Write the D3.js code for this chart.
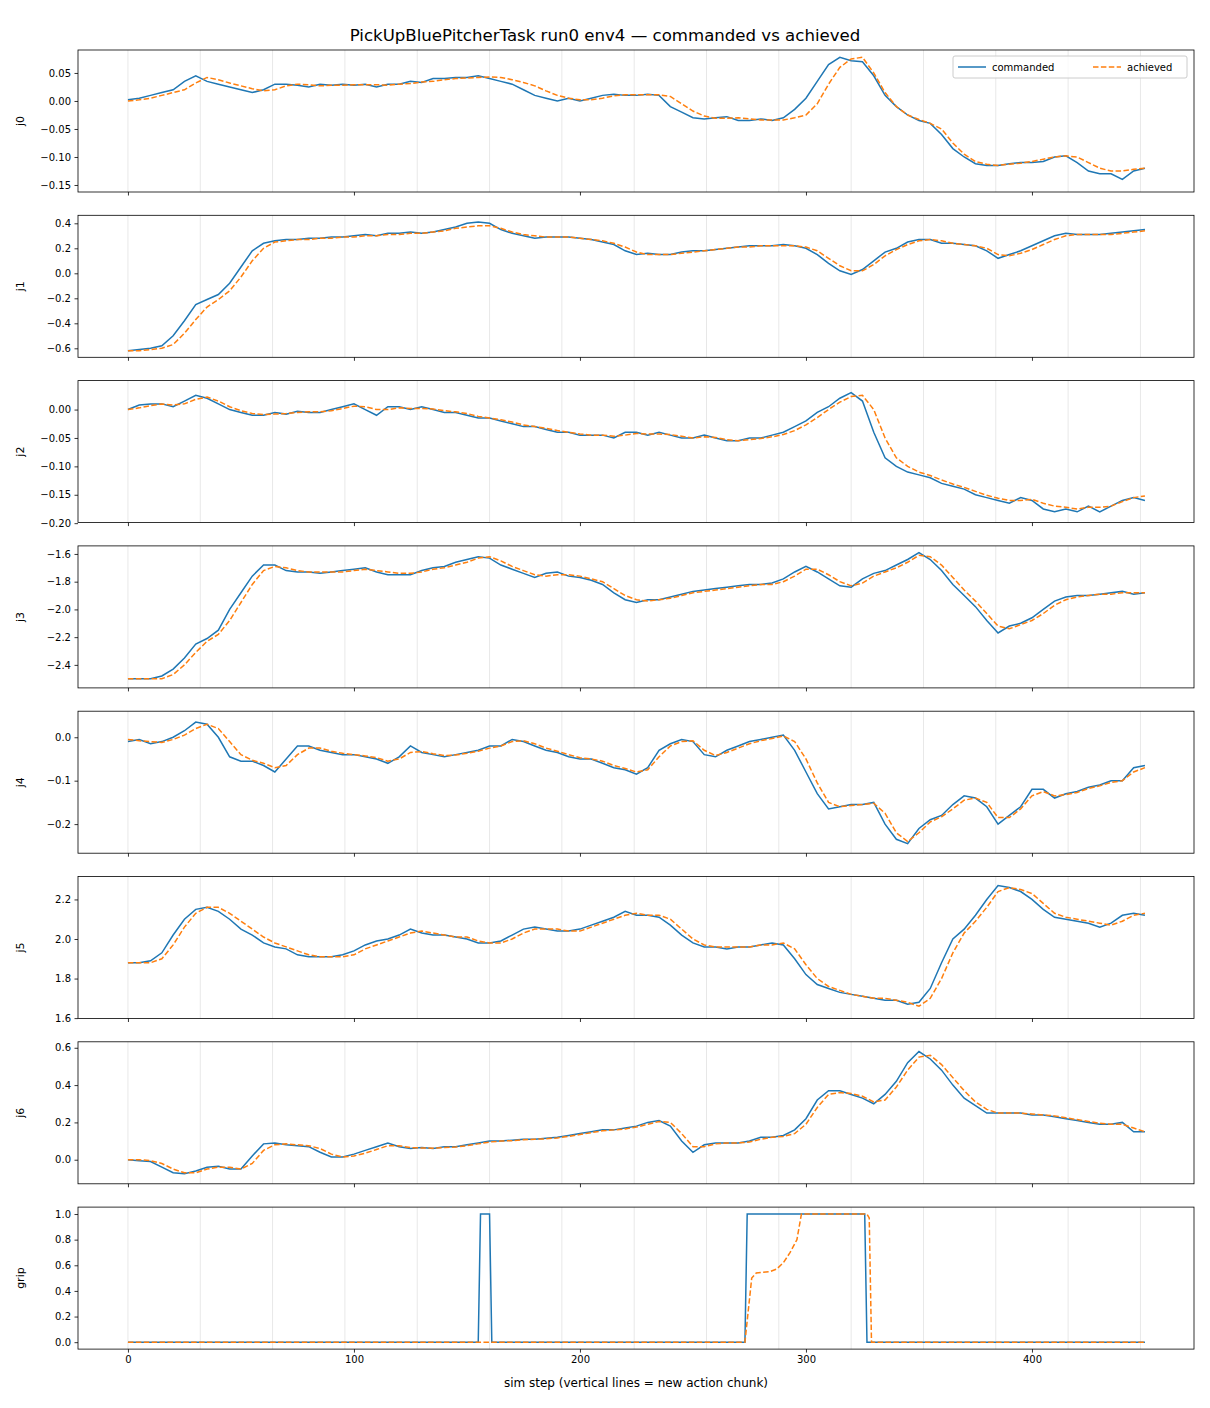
<!DOCTYPE html>
<html><head><meta charset="utf-8">
<script src="https://cdn.jsdelivr.net/npm/d3@7"></script>
<style>body{margin:0;background:#fff}</style></head>
<body><svg id="c" width="1210" height="1408"></svg>
<script>
const steps = d3.range(0, 451, 5);
const panelNames = ["j0","j1","j2","j3","j4","j5","j6"];
const j0Cmd=[0.002,0.005,0.01,0.015,0.02,0.035,0.045,0.035,0.03,0.025,
0.02,0.015,0.02,0.03,0.03,0.028,0.025,0.03,0.028,0.03,
0.028,0.03,0.025,0.03,0.03,0.035,0.033,0.04,0.04,0.042,
0.042,0.045,0.04,0.035,0.03,0.02,0.01,0.005,0.0,0.005,
0.0,0.005,0.01,0.012,0.01,0.01,0.012,0.01,-0.01,-0.02,
-0.03,-0.032,-0.03,-0.028,-0.035,-0.035,-0.032,-0.035,-0.03,-0.015,
0.005,0.035,0.065,0.078,0.072,0.07,0.045,0.01,-0.01,-0.025,
-0.035,-0.04,-0.06,-0.085,-0.1,-0.112,-0.115,-0.115,-0.112,-0.11,
-0.11,-0.108,-0.1,-0.098,-0.11,-0.125,-0.13,-0.13,-0.14,-0.125,-0.12];
const j0Ach=[0.0,0.002,0.005,0.01,0.015,0.02,0.032,0.042,0.038,0.032,
0.027,0.022,0.018,0.02,0.027,0.03,0.029,0.027,0.028,0.028,
0.029,0.029,0.029,0.028,0.03,0.031,0.034,0.035,0.038,0.04,
0.041,0.042,0.043,0.042,0.038,0.033,0.027,0.018,0.01,0.005,
0.002,0.002,0.005,0.009,0.011,0.011,0.011,0.011,0.008,-0.005,
-0.018,-0.027,-0.031,-0.031,-0.03,-0.032,-0.034,-0.034,-0.034,-0.03,
-0.025,-0.005,0.03,0.06,0.075,0.078,0.05,0.015,-0.01,-0.025,
-0.033,-0.04,-0.05,-0.075,-0.095,-0.108,-0.113,-0.115,-0.113,-0.111,
-0.108,-0.104,-0.1,-0.098,-0.1,-0.11,-0.12,-0.125,-0.125,-0.122,-0.12];
const j1Cmd=[-0.62,-0.61,-0.6,-0.58,-0.5,-0.38,-0.25,-0.21,-0.17,-0.08,
0.05,0.18,0.24,0.26,0.27,0.27,0.28,0.28,0.29,0.29,
0.3,0.31,0.3,0.32,0.32,0.33,0.32,0.33,0.35,0.37,
0.4,0.41,0.4,0.35,0.32,0.3,0.28,0.29,0.29,0.29,
0.28,0.27,0.25,0.23,0.18,0.15,0.16,0.15,0.15,0.17,
0.18,0.18,0.19,0.2,0.21,0.22,0.22,0.22,0.23,0.22,
0.2,0.15,0.08,0.02,-0.01,0.03,0.1,0.17,0.2,0.25,
0.27,0.27,0.24,0.24,0.23,0.22,0.18,0.12,0.15,0.18,
0.22,0.26,0.3,0.32,0.31,0.31,0.31,0.32,0.33,0.34,0.35];
const j1Ach=[-0.62,-0.62,-0.61,-0.6,-0.57,-0.48,-0.37,-0.27,-0.21,-0.14,
-0.03,0.1,0.2,0.25,0.26,0.27,0.27,0.28,0.28,0.29,
0.29,0.3,0.3,0.31,0.31,0.32,0.32,0.33,0.34,0.36,
0.37,0.38,0.38,0.36,0.33,0.31,0.3,0.29,0.29,0.29,
0.28,0.27,0.26,0.24,0.21,0.17,0.15,0.15,0.15,0.16,
0.17,0.18,0.19,0.2,0.21,0.21,0.22,0.22,0.22,0.22,
0.21,0.18,0.12,0.06,0.02,0.02,0.07,0.14,0.19,0.23,
0.26,0.27,0.26,0.24,0.23,0.22,0.2,0.15,0.14,0.16,
0.19,0.23,0.27,0.3,0.31,0.31,0.31,0.31,0.32,0.33,0.34];
const j2Cmd=[0.0,0.008,0.01,0.01,0.005,0.015,0.025,0.02,0.01,0.0,
-0.005,-0.01,-0.01,-0.005,-0.008,-0.003,-0.005,-0.005,0.0,0.005,
0.01,0.0,-0.01,0.005,0.005,0.0,0.005,0.0,-0.005,-0.005,
-0.01,-0.015,-0.015,-0.02,-0.025,-0.03,-0.03,-0.035,-0.04,-0.04,
-0.045,-0.045,-0.045,-0.05,-0.04,-0.04,-0.045,-0.04,-0.045,-0.05,
-0.05,-0.045,-0.05,-0.055,-0.055,-0.05,-0.05,-0.045,-0.04,-0.03,
-0.02,-0.005,0.005,0.02,0.03,0.015,-0.04,-0.085,-0.1,-0.11,
-0.115,-0.12,-0.13,-0.135,-0.14,-0.15,-0.155,-0.16,-0.165,-0.155,
-0.16,-0.175,-0.18,-0.175,-0.18,-0.17,-0.18,-0.17,-0.16,-0.155,-0.16];
const j2Ach=[0.0,0.003,0.007,0.01,0.008,0.01,0.018,0.022,0.015,0.005,
-0.002,-0.007,-0.009,-0.008,-0.007,-0.005,-0.004,-0.004,-0.002,0.002,
0.006,0.005,0.0,0.0,0.003,0.002,0.002,0.001,-0.002,-0.004,
-0.007,-0.012,-0.015,-0.018,-0.022,-0.027,-0.03,-0.033,-0.037,-0.04,
-0.043,-0.045,-0.045,-0.047,-0.045,-0.042,-0.043,-0.043,-0.044,-0.047,
-0.05,-0.048,-0.049,-0.053,-0.055,-0.053,-0.051,-0.048,-0.044,-0.037,
-0.027,-0.014,0.0,0.013,0.023,0.025,0.0,-0.05,-0.085,-0.1,
-0.11,-0.116,-0.124,-0.131,-0.137,-0.144,-0.151,-0.156,-0.16,-0.16,
-0.158,-0.165,-0.17,-0.172,-0.175,-0.172,-0.172,-0.17,-0.162,-0.155,-0.152];
const j3Cmd=[-2.5,-2.5,-2.5,-2.48,-2.43,-2.35,-2.25,-2.21,-2.15,-2.0,
-1.88,-1.76,-1.68,-1.68,-1.72,-1.73,-1.73,-1.74,-1.73,-1.72,
-1.71,-1.7,-1.73,-1.75,-1.75,-1.75,-1.72,-1.7,-1.69,-1.66,
-1.64,-1.62,-1.63,-1.68,-1.71,-1.74,-1.77,-1.74,-1.73,-1.76,
-1.77,-1.79,-1.82,-1.88,-1.93,-1.95,-1.93,-1.93,-1.91,-1.89,
-1.87,-1.86,-1.85,-1.84,-1.83,-1.82,-1.82,-1.81,-1.78,-1.73,
-1.69,-1.73,-1.78,-1.83,-1.84,-1.78,-1.74,-1.72,-1.68,-1.64,
-1.59,-1.64,-1.72,-1.82,-1.9,-1.98,-2.08,-2.17,-2.12,-2.1,
-2.06,-2.0,-1.94,-1.91,-1.9,-1.9,-1.89,-1.88,-1.87,-1.89,-1.88];
const j3Ach=[-2.5,-2.5,-2.5,-2.5,-2.47,-2.4,-2.31,-2.23,-2.18,-2.08,
-1.95,-1.82,-1.72,-1.69,-1.7,-1.72,-1.73,-1.73,-1.73,-1.73,
-1.72,-1.71,-1.72,-1.73,-1.74,-1.74,-1.73,-1.71,-1.7,-1.68,
-1.66,-1.63,-1.62,-1.65,-1.69,-1.72,-1.75,-1.76,-1.75,-1.75,
-1.76,-1.78,-1.8,-1.85,-1.9,-1.93,-1.94,-1.93,-1.92,-1.9,
-1.88,-1.87,-1.86,-1.85,-1.84,-1.83,-1.82,-1.82,-1.8,-1.76,
-1.71,-1.71,-1.75,-1.8,-1.83,-1.81,-1.76,-1.73,-1.7,-1.66,
-1.61,-1.62,-1.68,-1.77,-1.86,-1.94,-2.03,-2.12,-2.14,-2.11,
-2.08,-2.03,-1.97,-1.93,-1.91,-1.9,-1.89,-1.89,-1.88,-1.88,-1.88];
const j4Cmd=[-0.01,-0.005,-0.015,-0.01,0.0,0.015,0.035,0.03,0.0,-0.045,
-0.055,-0.055,-0.065,-0.08,-0.05,-0.02,-0.02,-0.03,-0.035,-0.04,
-0.04,-0.045,-0.05,-0.06,-0.045,-0.02,-0.035,-0.04,-0.045,-0.04,
-0.035,-0.03,-0.02,-0.02,-0.005,-0.01,-0.02,-0.03,-0.035,-0.045,
-0.05,-0.05,-0.06,-0.07,-0.075,-0.085,-0.07,-0.03,-0.015,-0.005,
-0.01,-0.04,-0.045,-0.03,-0.02,-0.01,-0.005,0.0,0.005,-0.03,
-0.08,-0.13,-0.165,-0.16,-0.155,-0.155,-0.15,-0.2,-0.235,-0.245,
-0.21,-0.19,-0.18,-0.155,-0.135,-0.14,-0.16,-0.2,-0.18,-0.16,
-0.12,-0.12,-0.14,-0.13,-0.125,-0.115,-0.11,-0.1,-0.1,-0.07,-0.065];
const j4Ach=[-0.005,-0.008,-0.01,-0.012,-0.005,0.005,0.02,0.03,0.02,-0.01,
-0.04,-0.053,-0.06,-0.07,-0.065,-0.04,-0.025,-0.025,-0.032,-0.037,
-0.04,-0.043,-0.047,-0.055,-0.05,-0.035,-0.033,-0.038,-0.042,-0.041,
-0.037,-0.032,-0.025,-0.02,-0.01,-0.008,-0.015,-0.025,-0.032,-0.04,
-0.047,-0.05,-0.055,-0.065,-0.072,-0.08,-0.075,-0.045,-0.02,-0.01,
-0.008,-0.03,-0.042,-0.035,-0.025,-0.015,-0.008,-0.003,0.003,-0.01,
-0.05,-0.105,-0.15,-0.16,-0.157,-0.155,-0.152,-0.175,-0.22,-0.24,
-0.22,-0.195,-0.183,-0.165,-0.145,-0.14,-0.15,-0.185,-0.185,-0.165,
-0.135,-0.125,-0.135,-0.132,-0.127,-0.118,-0.112,-0.104,-0.1,-0.08,-0.07];
const j5Cmd=[1.88,1.88,1.89,1.93,2.02,2.1,2.15,2.16,2.14,2.1,
2.05,2.02,1.98,1.96,1.95,1.92,1.91,1.91,1.91,1.92,
1.94,1.97,1.99,2.0,2.02,2.05,2.03,2.02,2.02,2.01,
2.0,1.98,1.98,1.99,2.02,2.05,2.06,2.05,2.04,2.04,
2.05,2.07,2.09,2.11,2.14,2.12,2.12,2.11,2.07,2.02,
1.98,1.96,1.96,1.95,1.96,1.96,1.97,1.98,1.97,1.9,
1.82,1.77,1.75,1.73,1.72,1.71,1.7,1.69,1.69,1.67,
1.68,1.75,1.88,2.0,2.05,2.12,2.2,2.27,2.26,2.24,
2.2,2.15,2.11,2.1,2.09,2.08,2.06,2.08,2.12,2.13,2.12];
const j5Ach=[1.88,1.88,1.88,1.9,1.97,2.06,2.13,2.16,2.16,2.13,
2.09,2.05,2.01,1.98,1.96,1.94,1.92,1.91,1.91,1.91,
1.92,1.95,1.97,1.99,2.01,2.03,2.04,2.03,2.02,2.01,
2.01,1.99,1.98,1.98,2.0,2.03,2.05,2.05,2.05,2.04,
2.04,2.06,2.08,2.1,2.12,2.13,2.12,2.12,2.1,2.05,
2.0,1.97,1.96,1.96,1.96,1.96,1.97,1.97,1.98,1.95,
1.87,1.8,1.76,1.74,1.72,1.71,1.7,1.7,1.69,1.68,
1.66,1.7,1.8,1.93,2.03,2.09,2.16,2.24,2.26,2.25,
2.23,2.18,2.13,2.11,2.1,2.09,2.08,2.07,2.09,2.12,2.13];
const j6Cmd=[0.0,-0.005,-0.01,-0.04,-0.07,-0.075,-0.06,-0.04,-0.035,-0.05,
-0.05,0.02,0.085,0.09,0.08,0.075,0.07,0.04,0.015,0.015,
0.03,0.05,0.07,0.09,0.07,0.06,0.065,0.06,0.07,0.07,
0.08,0.09,0.1,0.1,0.105,0.11,0.11,0.115,0.12,0.13,
0.14,0.15,0.16,0.16,0.17,0.18,0.2,0.21,0.18,0.1,
0.04,0.08,0.09,0.09,0.09,0.1,0.12,0.12,0.13,0.16,
0.22,0.32,0.37,0.37,0.35,0.33,0.3,0.35,0.42,0.52,
0.58,0.54,0.48,0.4,0.33,0.29,0.25,0.25,0.25,0.25,
0.24,0.24,0.23,0.22,0.21,0.2,0.19,0.19,0.2,0.15,0.15];
const j6Ach=[0.0,0.0,-0.005,-0.02,-0.05,-0.07,-0.07,-0.05,-0.04,-0.04,
-0.05,-0.02,0.05,0.08,0.085,0.08,0.075,0.06,0.03,0.015,
0.02,0.035,0.055,0.075,0.075,0.065,0.063,0.062,0.065,0.068,
0.075,0.085,0.095,0.1,0.102,0.107,0.11,0.112,0.117,0.125,
0.135,0.145,0.155,0.16,0.165,0.175,0.19,0.205,0.2,0.14,
0.07,0.07,0.085,0.09,0.09,0.095,0.11,0.12,0.125,0.14,
0.19,0.28,0.35,0.36,0.355,0.34,0.31,0.32,0.39,0.48,
0.55,0.56,0.51,0.44,0.37,0.31,0.27,0.25,0.25,0.25,
0.245,0.24,0.235,0.225,0.215,0.205,0.195,0.19,0.19,0.17,0.15];
const gripCmdSteps=[0,155,156,160,161,273,274,326,327,450];
const gripCmdVals=[0,0,1,1,0,0,1,1,0,0];
const gripAchSteps=[0,273,276,278,284,287,290,293,296,298,327,328,329,450];
const gripAchVals=[0,0,0.5,0.54,0.55,0.57,0.62,0.7,0.8,1.0,1.0,0.97,0,0];
const xTicks=[0,100,200,300,400];
const chunkLines=d3.range(0,451,32);
const yTicksList=[[-0.15,-0.10,-0.05,0.00,0.05],[-0.6,-0.4,-0.2,0.0,0.2,0.4],[-0.20,-0.15,-0.10,-0.05,0.00],
[-2.4,-2.2,-2.0,-1.8,-1.6],[-0.2,-0.1,0.0],[1.6,1.8,2.0,2.2],[0.0,0.2,0.4,0.6],[0,0.2,0.4,0.6,0.8,1.0]];
const yDomains=[[-0.1625,0.091],[-0.672,0.464],[-0.199,0.051],[-2.566,-1.542],[-0.267,0.06],[1.598,2.316],[-0.129,0.632],[-0.054,1.054]];
const yFmt=[".2f",".1f",".2f",".1f",".1f",".1f",".1f",".1f"];

const svg=d3.select("#c");
const L=78,W=1116,H=142,T0=50,STEP=165.3;
const x=d3.scaleLinear().domain([-22.1,471.7]).range([L,L+W]);
const blue="#1f77b4",orange="#ff7f0e";
const cmdArr=[j0Cmd,j1Cmd,j2Cmd,j3Cmd,j4Cmd,j5Cmd,j6Cmd];
const achArr=[j0Ach,j1Ach,j2Ach,j3Ach,j4Ach,j5Ach,j6Ach];
const minus=s=>s.replace("-","\u2212");
for(let p=0;p<8;p++){
  const top=T0+p*STEP;
  const y=d3.scaleLinear().domain(yDomains[p]).range([top+H,top]);
  const g=svg.append("g");
  g.selectAll("line.ch").data(chunkLines).join("line").attr("x1",d=>x(d)).attr("x2",d=>x(d))
   .attr("y1",top).attr("y2",top+H).attr("stroke","#000").attr("stroke-opacity",0.12).attr("stroke-width",0.8);
  let cmd,ach;
  if(p<7){cmd=steps.map((s,i)=>[s,cmdArr[p][i]]);ach=steps.map((s,i)=>[s,achArr[p][i]]);}
  else{cmd=gripCmdSteps.map((s,i)=>[s,gripCmdVals[i]]);ach=gripAchSteps.map((s,i)=>[s,gripAchVals[i]]);}
  const line=d3.line().x(d=>x(d[0])).y(d=>y(d[1]));
  g.append("path").attr("d",line(cmd)).attr("fill","none").attr("stroke",blue).attr("stroke-width",1.5);
  g.append("path").attr("d",line(ach)).attr("fill","none").attr("stroke",orange).attr("stroke-width",1.5).attr("stroke-dasharray","5.5,2.4");
  g.append("rect").attr("x",L).attr("y",top).attr("width",W).attr("height",H).attr("fill","none").attr("stroke","#000").attr("stroke-width",0.8);
  const ya=d3.axisLeft(y).tickValues(yTicksList[p]).tickSize(3.5).tickPadding(3.5).tickFormat(d=>minus(d3.format(yFmt[p])(d)));
  const yg=g.append("g").attr("transform",`translate(${L},0)`).call(ya);
  const xa=d3.axisBottom(x).tickValues(xTicks).tickSize(3.5).tickPadding(3.5).tickFormat(p===7?d3.format("d"):"");
  const xg=g.append("g").attr("transform",`translate(0,${top+H})`).call(xa);
  [yg,xg].forEach(a=>{a.select(".domain").remove();a.selectAll("text").attr("font-family","DejaVu Sans").attr("font-size",10).attr("fill","#000");a.selectAll("line").attr("stroke","#000").attr("stroke-width",0.8);});
  g.append("text").attr("transform",`translate(${24},${top+H/2}) rotate(-90)`).attr("text-anchor","middle")
   .attr("font-family","DejaVu Sans").attr("font-size",11).text(p<7?panelNames[p]:"grip");
}
svg.append("text").attr("x",605).attr("y",41).attr("text-anchor","middle").attr("font-family","DejaVu Sans").attr("font-size",16.6).text("PickUpBluePitcherTask run0 env4 \u2014 commanded vs achieved");
svg.append("text").attr("x",636).attr("y",1387).attr("text-anchor","middle").attr("font-family","DejaVu Sans").attr("font-size",12).text("sim step (vertical lines = new action chunk)");
const lg=svg.append("g");
lg.append("rect").attr("x",953).attr("y",56).attr("width",234).attr("height",22).attr("rx",2).attr("fill","#fff").attr("fill-opacity",0.8).attr("stroke","#ccc");
lg.append("line").attr("x1",958).attr("x2",986).attr("y1",67).attr("y2",67).attr("stroke",blue).attr("stroke-width",1.5);
lg.append("text").attr("x",992).attr("y",71).attr("font-family","DejaVu Sans").attr("font-size",10).text("commanded");
lg.append("line").attr("x1",1093).attr("x2",1121).attr("y1",67).attr("y2",67).attr("stroke",orange).attr("stroke-width",1.5).attr("stroke-dasharray","5.5,2.4");
lg.append("text").attr("x",1127).attr("y",71).attr("font-family","DejaVu Sans").attr("font-size",10).text("achieved");
</script></body></html>
